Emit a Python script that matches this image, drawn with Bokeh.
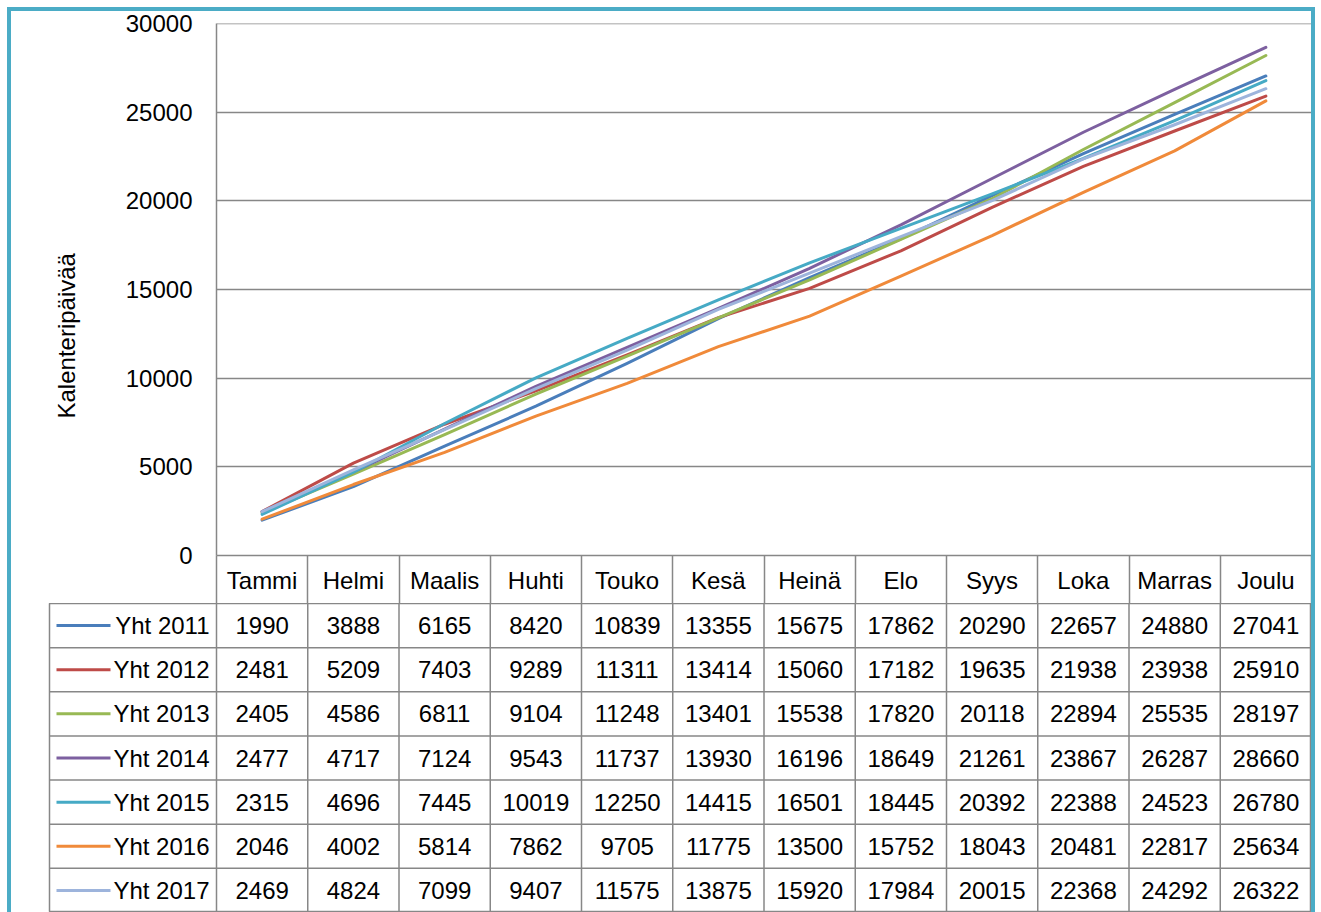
from bokeh.plotting import figure
from bokeh.layouts import column
from bokeh.models import Range1d, FixedTicker, Title, ColumnDataSource
from bokeh.embed import file_html
from bokeh.resources import INLINE
from bokeh.core.properties import value

# ---------------- data ----------------
months = ["Tammi", "Helmi", "Maalis", "Huhti", "Touko", "Kesä",
          "Heinä", "Elo", "Syys", "Loka", "Marras", "Joulu"]
series_names = ["Yht 2011", "Yht 2012", "Yht 2013", "Yht 2014",
                "Yht 2015", "Yht 2016", "Yht 2017"]
yht_2011 = [1990, 3888, 6165, 8420, 10839, 13355, 15675, 17862, 20290, 22657, 24880, 27041]
yht_2012 = [2481, 5209, 7403, 9289, 11311, 13414, 15060, 17182, 19635, 21938, 23938, 25910]
yht_2013 = [2405, 4586, 6811, 9104, 11248, 13401, 15538, 17820, 20118, 22894, 25535, 28197]
yht_2014 = [2477, 4717, 7124, 9543, 11737, 13930, 16196, 18649, 21261, 23867, 26287, 28660]
yht_2015 = [2315, 4696, 7445, 10019, 12250, 14415, 16501, 18445, 20392, 22388, 24523, 26780]
yht_2016 = [2046, 4002, 5814, 7862, 9705, 11775, 13500, 15752, 18043, 20481, 22817, 25634]
yht_2017 = [2469, 4824, 7099, 9407, 11575, 13875, 15920, 17984, 20015, 22368, 24292, 26322]
series_values = [yht_2011, yht_2012, yht_2013, yht_2014, yht_2015, yht_2016, yht_2017]
y_ticks = [0, 5000, 10000, 15000, 20000, 25000, 30000]
y_axis_title = "Kalenteripäivää"

# ---------------- style ----------------
colors = ["#4A7EBB", "#BE4B48", "#98B954", "#7D60A0", "#46AAC5", "#F08A3A", "#9DB4DC"]
FONT = "Liberation Sans"
FS = "24px"
GRID = "#878787"
TEAL = "#4BACC6"
LW = 3

W = 1300              # content width (inside teal frame)
PLOT_LEFT = 205       # chart frame left offset
TOP = 12
FRAME_H = 532
HEADER_H = 48
FRAME_W = W - PLOT_LEFT
N = len(months)
COL_W = FRAME_W / N
LEG_PX = 167          # legend column width of the table
TABLE_LEFT = PLOT_LEFT - LEG_PX
LEG = LEG_PX / COL_W
TABLE_H = 309

# ---------------- chart ----------------
y_end = y_ticks[-1] * 1.00001
pA = figure(width=W, height=TOP + FRAME_H + HEADER_H, x_range=Range1d(0, N),
            y_range=Range1d(y_ticks[0], y_end),
            output_backend="svg", toolbar_location=None,
            min_border_left=PLOT_LEFT, min_border_right=0, min_border_top=TOP,
            min_border_bottom=HEADER_H)
pA.outline_line_color = None
pA.background_fill_color = "white"
pA.border_fill_color = "white"
pA.xgrid.visible = False
pA.ygrid.grid_line_color = GRID
pA.ygrid.grid_line_width = 1.5
pA.ygrid.ticker = FixedTicker(ticks=y_ticks)

ya = pA.yaxis[0]
ya.ticker = FixedTicker(ticks=y_ticks)
ya.major_tick_out = 0
ya.major_tick_in = 0
ya.minor_tick_out = 0
ya.minor_tick_in = 0
ya.axis_line_color = GRID
ya.axis_line_width = 1.5
ya.major_label_standoff = 24
ya.major_label_text_font = FONT
ya.major_label_text_font_size = FS
ya.major_label_text_color = "black"

centers = [i + 0.5 for i in range(N)]
xa = pA.xaxis[0]
xa.ticker = FixedTicker(ticks=centers, minor_ticks=list(range(N + 1)))
xa.major_label_overrides = {c: m for c, m in zip(centers, months)}
xa.major_tick_out = 0
xa.major_tick_in = 0
xa.minor_tick_in = 0
xa.minor_tick_out = HEADER_H
xa.minor_tick_line_color = GRID
xa.minor_tick_line_width = 1.5
xa.axis_line_color = GRID
xa.axis_line_width = 1.5
xa.major_label_standoff = 11 - HEADER_H
xa.major_label_text_font = FONT
xa.major_label_text_font_size = FS
xa.major_label_text_color = "black"

for vals, col in zip(series_values, colors):
    pA.line(x=centers, y=vals, line_color=col, line_width=LW,
            line_join="round", line_cap="round")

# axis title in the left side panel (shifted down like the original)
pA.add_layout(Title(text=y_axis_title, align="left", offset=137, standoff=82,
                    vertical_align="top",
                    text_font=FONT, text_font_size=FS, text_font_style="normal",
                    text_color="black"), "left")

# ---------------- data table ----------------
R = len(series_names)
pB = figure(width=W, height=TABLE_H, x_range=Range1d(-LEG, N), y_range=Range1d(R, 0),
            output_backend="svg", toolbar_location=None,
            x_axis_location=None, y_axis_location=None,
            min_border_left=TABLE_LEFT, min_border_right=0, min_border_top=0, min_border_bottom=0)
pB.grid.visible = False
pB.outline_line_color = GRID
pB.outline_line_width = 1.5
pB.background_fill_color = "white"
pB.border_fill_color = "white"

# horizontal row lines
pB.segment(x0=[-LEG] * (R - 1), x1=[N] * (R - 1), y0=list(range(1, R)), y1=list(range(1, R)),
           line_color=GRID, line_width=1.5)
# vertical column lines
pB.segment(x0=list(range(N)), x1=list(range(N)), y0=[0] * N, y1=[R] * N,
           line_color=GRID, line_width=1.5)

# cell values
xs, ys, ts = [], [], []
for r, vals in enumerate(series_values):
    for c, v in enumerate(vals):
        xs.append(c + 0.5)
        ys.append(r + 0.5)
        ts.append(str(v))
pB.text(x="x", y="y", text="t", source=ColumnDataSource(dict(x=xs, y=ys, t=ts)),
        text_align="center", text_baseline="middle", text_font=value(FONT),
        text_font_size=FS, text_color="black")

# legend keys and names
row_mid = [r + 0.5 for r in range(R)]
key_x0 = -LEG + 7 / COL_W
key_x1 = -LEG + 61 / COL_W
pB.segment(x0=[key_x0] * R, x1=[key_x1] * R, y0=row_mid, y1=row_mid,
           line_color=colors, line_width=LW)
pB.text(x=[-7 / COL_W] * R, y=row_mid, text=series_names, text_align="right",
        text_baseline="middle", text_font=value(FONT), text_font_size=FS, text_color="black")

border = f"4px solid {TEAL}"
top_box = column(pA, spacing=0,
                 styles={"margin-left": "7px", "margin-top": "7px", "border-left": border,
                         "border-top": border, "border-right": border,
                         "background-color": "white"})
bottom_box = column(pB, spacing=0,
                    styles={"margin-left": "7px", "border-left": border,
                            "border-right": border, "background-color": "white"})

open("out.html", "w").write(file_html([top_box, bottom_box], INLINE))
